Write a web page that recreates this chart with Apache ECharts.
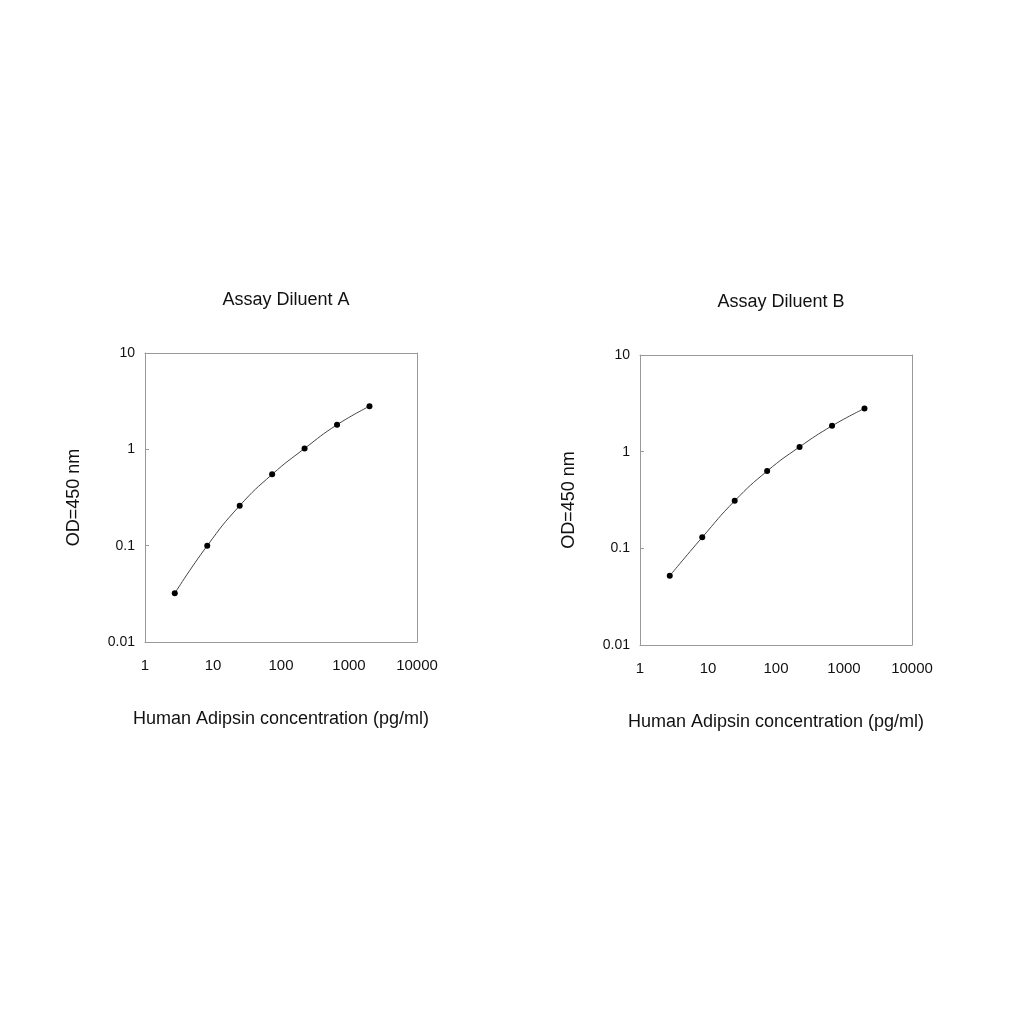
<!DOCTYPE html><html><head><meta charset="utf-8"><script src="https://cdn.jsdelivr.net/npm/echarts@6/dist/echarts.min.js"></script></head><body style="margin:0;background:#fff"><div id="c" style="width:1024px;height:1024px"></div><script>
const conc=[2.74,8.23,24.7,74.1,222,667,2000];
const odA=[0.032,0.10,0.26,0.55,1.02,1.8,2.8];
const odB=[0.052,0.13,0.31,0.63,1.12,1.85,2.8];
const titles=['Assay Diluent A','Assay Diluent B'];
const xName='Human Adipsin concentration (pg/ml)';
const yName='OD=450 nm';
const grids=[{left:145,top:353,width:272,height:289},{left:640,top:355,width:272,height:290}];
const ft={fontFamily:'Liberation Sans',color:'#111'};
const opt={animation:false,title:[],grid:grids,xAxis:[],yAxis:[],series:[]};
[odA,odB].forEach((od,i)=>{
 const g=grids[i];
 opt.title.push({text:titles[i],left:g.left+g.width/2,top:g.top-67,textAlign:'center',textStyle:{...ft,fontSize:18,fontWeight:'normal'}});
 opt.xAxis.push({type:'log',logBase:10,min:1,max:10000,gridIndex:i,name:xName,nameLocation:'middle',nameGap:68,nameTextStyle:{...ft,fontSize:18},axisLine:{lineStyle:{color:'#999'}},axisTick:{show:false},splitLine:{show:false},axisLabel:{...ft,fontSize:15,margin:16,formatter:v=>String(v)}});
 opt.yAxis.push({type:'log',logBase:10,min:0.01,max:10,gridIndex:i,name:yName,nameLocation:'middle',nameGap:62,nameTextStyle:{...ft,fontSize:18},axisLine:{lineStyle:{color:'#999'}},axisTick:{show:true,inside:true,length:4,lineStyle:{color:'#999'}},splitLine:{show:false},axisLabel:{...ft,fontSize:14,margin:10,formatter:v=>String(v)}});
 opt.xAxis.push({type:'value',gridIndex:i,position:'top',show:true,axisLine:{show:true,lineStyle:{color:'#999'}},axisTick:{show:false},axisLabel:{show:false},splitLine:{show:false}});
 opt.yAxis.push({type:'value',gridIndex:i,position:'right',show:true,axisLine:{show:true,lineStyle:{color:'#999'}},axisTick:{show:false},axisLabel:{show:false},splitLine:{show:false}});
 opt.series.push({type:'line',xAxisIndex:i*2,yAxisIndex:i*2,smooth:true,data:conc.map((c,k)=>[c,od[k]]),symbol:'circle',symbolSize:6,itemStyle:{color:'#000'},lineStyle:{color:'#444',width:1}});
});
echarts.init(document.getElementById('c')).setOption(opt);
</script></body></html>
